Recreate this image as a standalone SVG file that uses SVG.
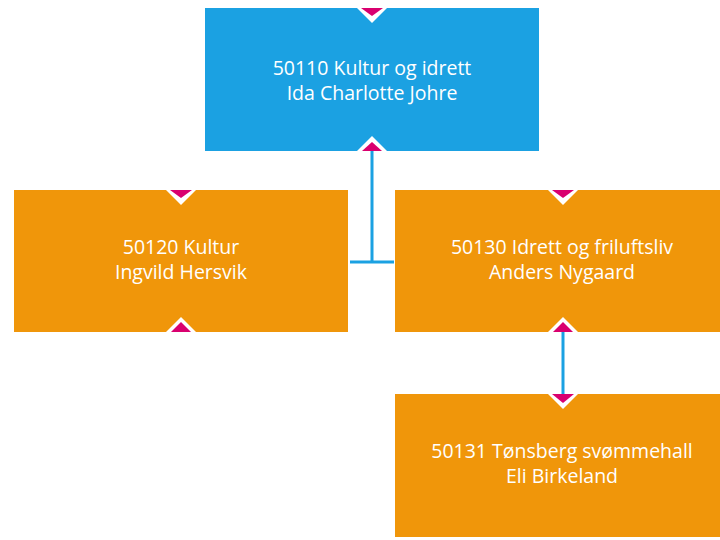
<svg xmlns="http://www.w3.org/2000/svg" width="720" height="540" viewBox="0 0 720 540">
<style>
.blue{fill:#1BA1E2}
.orange{fill:#F0960A}
.notch{fill:#FFFFFF}
.mark{fill:#D9006F}
.t{font-family:"Open Sans","Noto Sans","DejaVu Sans",sans-serif;font-size:19.5px;fill:#FFFFFF;text-anchor:middle}
.conn{stroke:#1BA1E2;stroke-width:3;fill:none}
</style>
<rect width="720" height="540" fill="#FFFFFF"/>
<g id="connectors">
<path class="conn" d="M372,150 V262 M350,262 H394"/>
<path class="conn" d="M563,332 V394"/>
</g>
<g id="node-50110">
<rect class="blue" x="205" y="8" width="334" height="143"/>
<polygon class="notch" points="357,8 387,8 372,23"/>
<polygon class="mark" points="361,8 383,8 372,16"/>
<polygon class="notch" points="357,151 387,151 372,136"/>
<polygon class="mark" points="362,151 382,151 372,142"/>
<text class="t" x="372" y="75">50110 Kultur og idrett</text>
<text class="t" x="372" y="100">Ida Charlotte Johre</text>
</g>
<g id="node-50120">
<rect class="orange" x="14" y="190" width="334" height="142"/>
<polygon class="notch" points="166,190 196,190 181,205"/>
<polygon class="mark" points="170,190 192,190 181,198"/>
<polygon class="notch" points="166,332 196,332 181,317"/>
<polygon class="mark" points="171,332 191,332 181,322"/>
<text class="t" x="181" y="254">50120 Kultur</text>
<text class="t" x="181" y="279">Ingvild Hersvik</text>
</g>
<g id="node-50130">
<rect class="orange" x="395" y="190" width="334" height="142"/>
<polygon class="notch" points="548,190 578,190 563,205"/>
<polygon class="mark" points="552,190 574,190 563,198"/>
<polygon class="notch" points="548,332 578,332 563,317"/>
<polygon class="mark" points="553,332 573,332 563,322"/>
<text class="t" x="562" y="254">50130 Idrett og friluftsliv</text>
<text class="t" x="562" y="279">Anders Nygaard</text>
</g>
<g id="node-50131">
<rect class="orange" x="395" y="394" width="334" height="143"/>
<polygon class="notch" points="548,394 578,394 563,409"/>
<polygon class="mark" points="552,394 574,394 563,403"/>
<text class="t" x="562" y="458">50131 Tønsberg svømmehall</text>
<text class="t" x="562" y="483">Eli Birkeland</text>
</g>
</svg>
